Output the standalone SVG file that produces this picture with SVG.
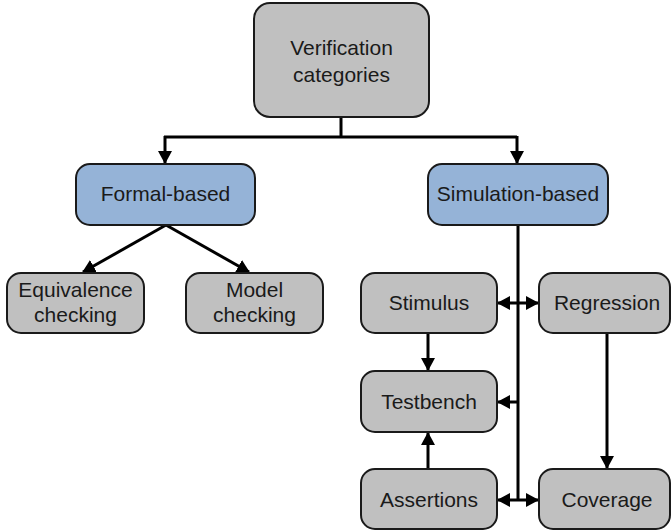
<svg xmlns="http://www.w3.org/2000/svg" width="671" height="531" viewBox="0 0 671 531">
<defs>
<style>
.box{stroke:#1a1a1a;stroke-width:2}
.gray{fill:#c0c0c0}
.blue{fill:#95b3d7}
.t{font-family:"Liberation Sans",Arial,sans-serif;font-size:21px;fill:#1a1a1a;text-anchor:middle}
.c{fill:none;stroke:#000;stroke-width:3}
</style>
<marker id="ah" viewBox="0 0 13 14" refX="12" refY="7" markerWidth="13" markerHeight="14" markerUnits="userSpaceOnUse" orient="auto-start-reverse">
<path d="M0,0 L13,7 L0,14 Z" fill="#000"/>
</marker>
</defs>
<rect width="671" height="531" fill="#fff"/>
<g id="connectors">
<path class="c" d="M341,117 V137"/>
<path class="c" d="M164,137 H517"/>
<path class="c" d="M165,136 V163" marker-end="url(#ah)"/>
<path class="c" d="M517,136 V163" marker-end="url(#ah)"/>
<path class="c" d="M166,225 L83,272" marker-end="url(#ah)"/>
<path class="c" d="M166,225 L249,272" marker-end="url(#ah)"/>
<path class="c" d="M518,225 V500"/>
<path class="c" d="M498,303 H538" marker-start="url(#ah)" marker-end="url(#ah)"/>
<path class="c" d="M428,333 V370" marker-end="url(#ah)"/>
<path class="c" d="M518,402 H498" marker-end="url(#ah)"/>
<path class="c" d="M428,469 V433" marker-end="url(#ah)"/>
<path class="c" d="M607,333 V468" marker-end="url(#ah)"/>
<path class="c" d="M498,500 H538" marker-start="url(#ah)" marker-end="url(#ah)"/>
</g>
<g id="verification">
<rect class="box gray" x="254" y="3" width="175" height="114" rx="16"/>
<text class="t" x="341.5" y="55">Verification</text>
<text class="t" x="341.5" y="82">categories</text>
</g>
<g id="formal">
<rect class="box blue" x="76" y="164" width="179" height="61" rx="14"/>
<text class="t" x="165.5" y="201">Formal-based</text>
</g>
<g id="simulation">
<rect class="box blue" x="428" y="164" width="180" height="61" rx="14"/>
<text class="t" x="518" y="201">Simulation-based</text>
</g>
<g id="equivalence">
<rect class="box gray" x="7" y="273" width="137" height="60" rx="14"/>
<text class="t" x="75.5" y="297">Equivalence</text>
<text class="t" x="75.5" y="322">checking</text>
</g>
<g id="model">
<rect class="box gray" x="186" y="273" width="137" height="60" rx="14"/>
<text class="t" x="254.5" y="297">Model</text>
<text class="t" x="254.5" y="322">checking</text>
</g>
<g id="stimulus">
<rect class="box gray" x="361" y="273" width="136" height="60" rx="14"/>
<text class="t" x="429" y="310">Stimulus</text>
</g>
<g id="regression">
<rect class="box gray" x="539" y="273" width="131" height="60" rx="14"/>
<text class="t" x="607" y="310">Regression</text>
</g>
<g id="testbench">
<rect class="box gray" x="361" y="371" width="136" height="61" rx="14"/>
<text class="t" x="429" y="409">Testbench</text>
</g>
<g id="assertions">
<rect class="box gray" x="361" y="469" width="136" height="60" rx="14"/>
<text class="t" x="429" y="507">Assertions</text>
</g>
<g id="coverage">
<rect class="box gray" x="539" y="469" width="131" height="60" rx="14"/>
<text class="t" x="607" y="507">Coverage</text>
</g>
</svg>
